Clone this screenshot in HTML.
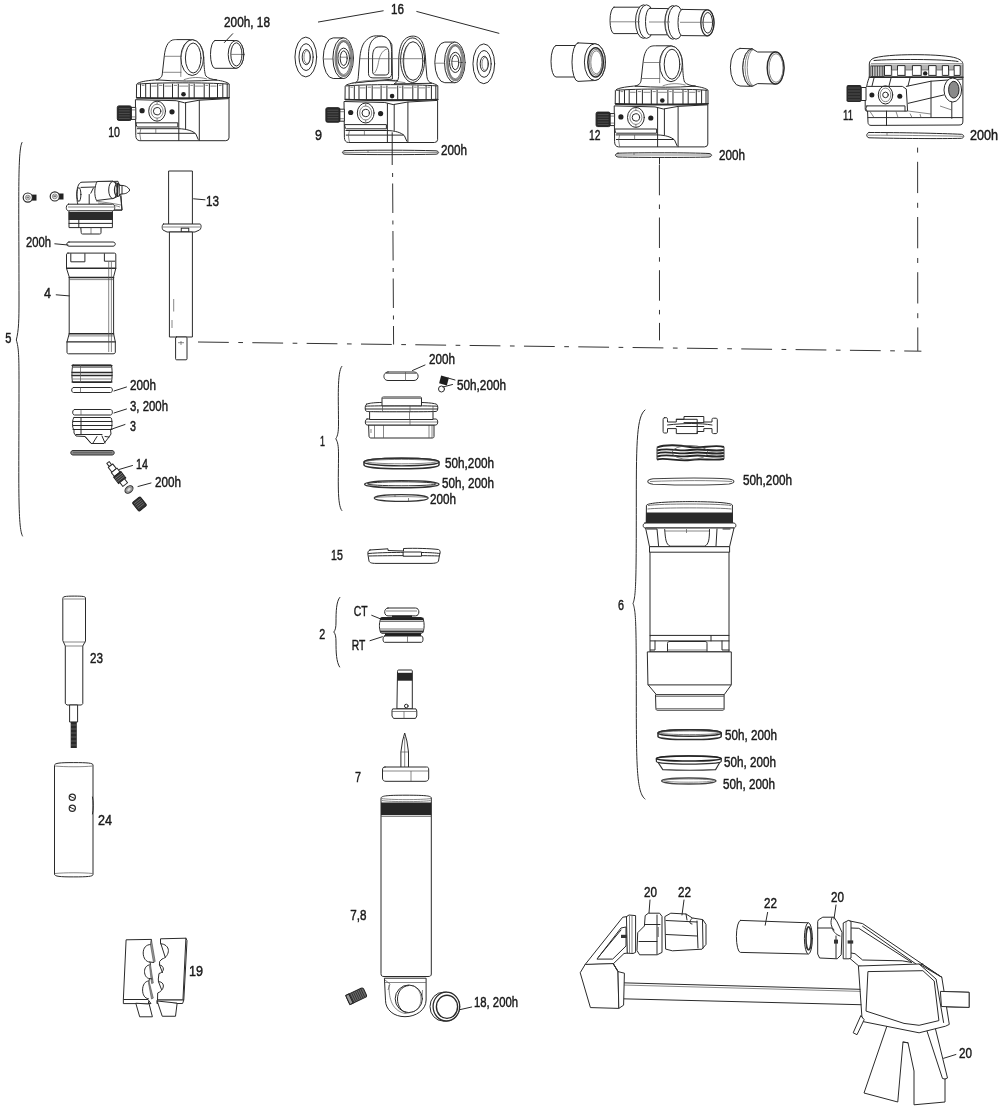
<!DOCTYPE html>
<html><head><meta charset="utf-8">
<style>
html,body{margin:0;padding:0;background:#fff;}
svg{display:block;will-change:transform;}
text{font-family:"Liberation Sans",sans-serif;font-size:14.5px;fill:#1a1a1a;stroke:#1a1a1a;stroke-width:0.45;}
.s{fill:#fff;stroke:#2a2a2a;stroke-width:1;stroke-linejoin:round;stroke-linecap:round;}
.n{fill:none;stroke:#2a2a2a;stroke-width:1;stroke-linecap:round;}
.t{fill:none;stroke:#555;stroke-width:0.7;}
.d{fill:#222;stroke:#222;stroke-width:1;}
.dd{fill:none;stroke:#333;stroke-width:1;stroke-dasharray:28 6 3 6;}
</style></head><body>
<svg width="1000" height="1109" viewBox="0 0 1000 1109">

<defs>
<g id="housing">
  <!-- dome top -->
  <path class="s" d="M0,1 C2,-2 20,-4 50,-4.3 C75,-4.2 88,-2.5 92.4,1 L92.4,15 L0,15 Z"/>
  <path class="n" d="M1,1.2 C20,-0.5 70,-0.5 91.4,1.2"/>
  <!-- ribs -->
  <path class="n" d="M3.7,1.2V14.7 M8.9,1.2V14.7 M13.6,1.2V14.7 M21,1.2V14.7 M26.8,1.2V14.7 M35.7,1.2V14.7 M41.5,1.2V14.7 M52.3,1.2V14.7 M57.4,1.2V14.7 M67.4,1.2V14.7 M72.6,1.2V14.7 M80.7,1.2V14.7 M86,1.2V14.7 M90.4,1.2V14.7"/>
  <path class="t" d="M5,2.5H7.6 M22.3,2.5H25.5 M37,2.5H40.2 M53.6,2.5H56.1 M68.7,2.5H71.3 M82,2.5H84.7 M14.5,3.2H20 M27.8,3.2H34.7 M42.5,3.2H51.3 M58.4,3.2H66.4 M73.6,3.2H79.7"/>
  <path class="n" style="stroke-width:1.6" d="M0,14.8 C30,16 62,16 92.4,14.8"/>
  <circle cx="46.7" cy="11.4" r="2.3" fill="#222"/>
  <!-- body -->
  <path class="s" d="M-1,16.8 L39.4,17.8 L47.8,19.9 L62.5,17.3 L92.2,15.7 L92.2,55 Q92,57.7 89,57.8 L3,57.8 Q-1,57.5 -1,53 Z"/>
  <path class="n" d="M42,19 V57.5 M48.8,20 V45.7 M62.5,17.5 V57.6"/>
  <path class="n" d="M-0.5,39.9 H41 V44.1 H1 Q-0.5,44 -0.5,42 Z"/>
  <path class="n" d="M0.5,45.8 H41.5 C50,46 56,48 59,51 L61.4,56.5 M0.8,50.4 H58"/>
  <path class="t" d="M19,45.8 V50.4 M4,46 Q2,50 4,57.5"/>
  <ellipse class="n" cx="20.3" cy="28.3" rx="8.4" ry="10"/>
  <ellipse class="t" cx="20.3" cy="28.3" rx="6" ry="7"/>
  <circle class="n" cx="20.3" cy="28.3" r="3.7"/>
  <path class="t" d="M20.3,18.5V21.5 M20.3,35V38"/>
  <circle cx="5.3" cy="27.8" r="2.6" fill="#222"/>
  <circle cx="35.2" cy="28.9" r="2.6" fill="#222"/>
  <!-- knob -->
  <rect x="-5.5" y="24.5" width="4.5" height="12" class="s"/>
  <path class="t" d="M-5.5,27H-1 M-5.5,34H-1"/>
  <rect x="-19.5" y="23" width="14" height="14.5" rx="1.5" fill="#2a2a2a" stroke="#222"/>
  <path d="M-18,25.5H-7 M-18,28H-7 M-18,30.5H-7 M-18,33H-7 M-18,35.5H-7" stroke="#777" stroke-width="0.5"/>
</g>

<g id="tower1">
  <path class="s" d="M20,-3 C24,-4.5 25.2,-6 25.5,-9 L27.5,-27 C28.5,-36 31,-41 35.5,-42.8 C37,-43.2 38,-43.3 40,-43.3 L54,-43.3 C62,-43.2 66.5,-36 67,-25 C67.3,-15 67.8,-10 69,-7 C71,-4.5 75,-3.5 80,-3 C60,-1.5 40,-1.5 20,-3 Z"/>
  <ellipse class="s" cx="55.4" cy="-25.3" rx="11.4" ry="17.9"/>
  <ellipse class="n" cx="56.4" cy="-24.9" rx="7.8" ry="15"/>
  <path class="t" d="M55.4,-43.2 C50,-43 45.5,-36 44.2,-26 L44,-6 M27.8,-26.6 H45 M26.4,-10.6 H44.6"/>
  <path class="t" d="M47,-3.2 C55,-6 62,-6 70,-4"/>
</g>
<g id="bearing">
  <!-- local: face ellipse center 0,0 rx 10.3 ry 20.3 ; depth to left 10 -->
  <path class="s" d="M0,-20.3 L-10,-20.3 A10,20.3 0 0 0 -10,20.3 L0,20.3 Z"/>
  <ellipse class="s" cx="0" cy="0" rx="10.3" ry="20.3"/>
  <ellipse class="n" cx="0.6" cy="0.2" rx="8.3" ry="17.6" style="stroke-width:2.2;stroke:#888"/>
  <ellipse class="s" cx="0.4" cy="0" rx="7" ry="16.5" style="stroke-width:0.6"/>
  <ellipse class="n" cx="0.5" cy="0" rx="5.8" ry="10.1"/>
  <ellipse class="n" cx="0.5" cy="0" rx="3.5" ry="7.3"/>
  <path class="t" d="M-20,0.8 H-9.5 M-3,-1 H4"/>
</g>
<g id="washer">
  <ellipse class="s" cx="0" cy="0" rx="10.85" ry="19.9"/>
  <ellipse class="n" cx="0.3" cy="0.1" rx="7.1" ry="13.4"/>
  <ellipse class="n" cx="0.5" cy="0.1" rx="4.1" ry="7.6"/>
  <ellipse class="t" cx="1.2" cy="0.1" rx="3" ry="6.5"/>
</g>
</defs>

<use href="#housing" x="136.8" y="82.9"/>
<use href="#housing" x="345.4" y="84.7"/>
<use href="#housing" x="615.6" y="89.1"/>

<!-- part 10 tower + bushing -->
<use href="#tower1" x="136.8" y="82.9"/>
<use href="#tower1" x="615.6" y="89.1"/>
<!-- bushing 18 -->
<path class="s" d="M215,40.5 L236,40.5 A7.8,13.9 0 0 1 236,68.3 L215,68.3 A4.5,13.9 0 0 1 215,40.5 Z"/>
<ellipse class="s" cx="236" cy="54.4" rx="7.8" ry="13.9"/>
<ellipse class="n" cx="236.4" cy="54.4" rx="5.6" ry="11.6"/>
<path class="t" d="M230.8,54.4 H242"/>
<path class="n" d="M232.7,33.7 L224.4,42.5"/>
<!-- part 9 towers (double lug) -->
<g transform="translate(345.4,84.7)">
  <path class="s" d="M10,-2 C12.5,-3 12.7,-5 12.9,-8 L14.5,-27.7 C15.5,-37 18,-42 21,-44.5 C24,-47.5 27,-48.9 31,-48.9 L37,-48.6 C41,-47.5 44,-45 46.5,-40 L47,-6 Z"/>
  <path class="s" d="M23.1,-30 C23.1,-40 26,-45 31,-47.5 C34,-49 38,-49 41,-47 C44.5,-44.5 46.2,-40 46.2,-33 L46.2,-11 C46.2,-8 44.5,-6.8 42,-6.8 L27.5,-6.8 C24.5,-6.8 23.1,-8.5 23.1,-11 Z"/>
  <path class="n" d="M27.2,-28 C27.2,-34 29,-37.7 33,-37.7 L39.5,-37.7 C42,-37.7 43.4,-35.5 43.4,-32 L43.4,-13 C43.4,-10.8 42,-9.7 40,-9.7 L30.5,-9.7 C28.5,-9.7 27.2,-11 27.2,-13 Z"/>
  <path class="t" d="M42,-36 C36,-34 34,-28 33,-22 C32,-16 30,-12 28,-11"/>
  <path class="s" d="M49,-1 C51,-2 53,-4 53.2,-8 L53.4,-27.7 C54,-36 56,-42 59,-45 C62,-48 65,-48.6 68,-48.6 C72,-48.4 75.5,-46 77.5,-41 C79.5,-36 80,-30 80.5,-20 L81.5,-8 C82,-4 84,-2 86,-1.5 Z"/>
  <ellipse class="s" cx="67.2" cy="-24.5" rx="12" ry="22.3"/>
  <ellipse class="n" cx="67.6" cy="-23.7" rx="9.9" ry="19.3"/>
  <path class="t" d="M63,-40 C59,-35 58,-28 58.5,-20 C59,-12 61,-7 63,-6" />
  <path class="t" d="M14.5,-26 H78"/>
  <path class="t" d="M6,-1.5 C25,-6 40,-5 60,-2"/>
</g>
<!-- bearings/washers 16 -->
<use href="#washer" x="305.8" y="57"/>
<use href="#bearing" x="343.2" y="58.2"/>
<use href="#bearing" x="454.8" y="62.4"/>
<use href="#washer" x="483.8" y="63.8"/>
<path class="n" d="M318.4,22 L383.2,10.8 M416.8,11.5 L498.9,33.3"/>

<!-- part 12 bushings -->
<g>
  <path class="s" d="M614,7.2 L640,7.2 L640,33.6 L614,33.6 A4,13.2 0 0 1 614,7.2 Z"/>
  <ellipse class="s" cx="643.5" cy="21.6" rx="8" ry="16.8"/>
  <ellipse class="s" cx="646.5" cy="21.6" rx="8" ry="16.8"/>
  <path class="s" d="M649.5,8.4 L670,8.6 L670,34.8 L649.5,34.8 A4,13.2 0 0 1 649.5,8.4 Z"/>
  <ellipse class="s" cx="672.8" cy="22.4" rx="8" ry="16.8"/>
  <path class="t" d="M672,5.8 A8,16.8 0 0 0 672,39"/>
  <ellipse class="s" cx="676" cy="22.4" rx="8" ry="16.8"/>
  <path class="s" d="M682,9.4 L707.4,9.8 A6.6,13 0 0 1 707.4,35.8 L682,35.6 A4,13.1 0 0 1 682,9.4 Z"/>
  <ellipse class="s" cx="707.4" cy="22.8" rx="6.6" ry="13" style="stroke-width:1.3"/>
  <ellipse class="n" cx="707.8" cy="22.8" rx="4.8" ry="10.3"/>
  <path class="t" d="M610.5,21.8 H640 M649,22 H670 M680,22.3 H713"/>
</g>
<g>
  <path class="s" d="M556,45.5 L575,45.5 L575,77 L556,77 A5,15.75 0 0 1 556,45.5 Z"/>
  <path class="s" d="M578,42.9 L595,43.7 A10.5,18.4 0 0 1 595,80.5 L578,81.4 A6,19.2 0 0 1 578,42.9 Z"/>
  <ellipse class="s" cx="594.9" cy="62.1" rx="10.5" ry="18.4"/>
  <ellipse class="n" cx="595.6" cy="62.3" rx="7.8" ry="14.6" style="stroke-width:1.5"/>
  <ellipse class="t" cx="596" cy="62.3" rx="6.5" ry="13"/>
  <ellipse class="t" cx="596.3" cy="62.3" rx="5.5" ry="11.5"/>
</g>
<g>
  <path class="s" d="M740,48.4 L752,48.8 A9.2,18.8 0 0 0 752,86.4 L740,86 A9.6,18.8 0 0 1 740,48.4 Z"/>
  <path class="s" d="M752,48.8 L757.6,52 L775.6,52 A8.4,16 0 0 1 775.6,84 L757.6,83.6 L752,86.4 A9.2,18.8 0 0 1 752,48.8 Z"/>
  <path class="t" d="M753,49 A8,18.6 0 0 0 753,86.2 M754,49.2 A6.8,18.4 0 0 0 754,86"/>
  <ellipse class="s" cx="775.6" cy="68" rx="8.4" ry="16" style="stroke-width:1.4"/>
  <ellipse class="t" cx="776" cy="68" rx="7" ry="14.3"/>
</g>
<!-- part 11 -->
<g>
  <path class="s" d="M869.3,77.3 L869.3,64 C869.5,61 871,59.5 874,58 C885,55 905,54.6 918,54.7 C935,54.8 950,56 956,58 C960.5,59.5 962.9,61.5 962.9,64.3 L962.9,77.3 Z"/>
  <path class="n" d="M874,60.5 C890,59 945,59 958,61.5"/>
  <path class="t" d="M871,63.7 H962"/>
  <rect x="870" y="64.5" width="92" height="12.5" fill="#b5b5b5"/>
  <path d="M871,66H884 V76.5 H871Z" fill="#fff" stroke="#333" stroke-width="0.8"/>
  <path d="M872.5,66V76.5 M874.2,66V76.5 M875.9,66V76.5 M877.6,66V76.5 M879.3,66V76.5 M881,66V76.5 M882.7,66V76.5" stroke="#333" stroke-width="0.9"/>
  <path class="s" d="M884.9,65.6 h6.5 v9.8 h-6.5Z M897.9,65.6 h7.1 v9.8 h-7.1Z M912.8,65.6 h8.4 v9.8 h-8.4Z M929,65.6 h7.1 v9.8 h-7.1Z M942.7,65.6 h5.8 v9.8 h-5.8Z M954.4,65.6 h5.8 v9.8 h-5.8Z"/><path d="M891.8,70 h5.7 v6.5 h-5.7Z M905.4,70 h7 v6.5 h-7Z M921.6,70 h7 v6.5 h-7Z M936.4,70 h5.9 v6.5 h-5.9Z M948.9,70 h5.1 v6.5 h-5.1Z" fill="#fff" stroke="#555" stroke-width="0.7"/>
  
  <circle cx="925.2" cy="73.4" r="2.2" fill="#222"/>
  <path class="n" style="stroke-width:1.6" d="M869.3,77.3 H962.9"/>
  <path class="s" d="M866.7,86.4 C867.5,82 868.5,79 869.3,77.5 L962.9,77.5 L962.9,121 C962.9,124 962,125 959,125 L871,125.4 C869,125.4 868,124 868,122.8 Z"/>
  <path class="s" d="M865.4,87.7 C866,86.5 867,86.4 869,86.4 L902.4,86.4 L906.3,89 L907.6,111.1 L866.4,111.1 C865.5,111 865.2,110 865.2,108 Z"/>
  <path class="n" d="M866.5,105.9 H905 V111 M867,106 C865.5,107 865.5,110 867,111"/>
  <ellipse class="n" cx="885.5" cy="94.9" rx="7.2" ry="9.1"/>
  <ellipse class="t" cx="885.5" cy="94.9" rx="5.3" ry="6.8"/>
  <circle class="n" cx="885.5" cy="94.9" r="2.8"/>
  <circle cx="871.9" cy="94.9" r="2.5" fill="#222"/>
  <circle cx="899.8" cy="96.2" r="2.5" fill="#222"/>
  <path class="n" d="M906.3,86.4 L931,81.2 L962.5,79 M908.3,103.3 L944,94.9 M931,81.2 V117.6 M951.8,102 V118.3 M868,117.6 H962.5 M886.5,111.1 V125.4 M872,86 L874,78 M889,86 L891,78 M908,86 L910,78"/><path class="t" d="M870,111.5 L874,117.5 M896,111.5 L898,117.5 M908,111 L931,114 M910,113.5 L912,117.5 M920,114 L921,117.5 M940,106 L951.8,110"/>
  <ellipse class="s" cx="952.8" cy="90" rx="8.8" ry="12"/>
  <ellipse cx="953.8" cy="89.7" rx="5.2" ry="8.4" fill="#8a8a8a" stroke="#222" stroke-width="1"/>
  <rect x="861.5" y="87.5" width="4.5" height="13" class="s"/>
  <rect x="846.5" y="85.1" width="15" height="16.9" rx="1.8" fill="#2a2a2a"/>
  <path d="M848,88H860 M848,91H860 M848,94H860 M848,97H860 M848,100H860" stroke="#777" stroke-width="0.5"/>
</g>
<!-- o-rings under housings -->
<path class="s" d="M345,150.6 C370,150 410,150 436,150.8 C439.5,151.2 439.5,153.8 436,154.2 C410,154.8 370,154.8 345,154.2 C341.5,153.8 341.5,151 345,150.6 Z"/><path class="t" d="M343,152.4 H438 M368,150.6 V152.4"/>
<path class="s" d="M618,153.2 C640,152.6 690,152.6 709,153.5 C712.5,154 712.5,156.5 709,157 C690,157.6 640,157.6 618,157 C614.5,156.5 614.5,153.7 618,153.2 Z"/><path class="t" d="M616,155 H711 M634,153 V155"/>
<path class="s" d="M869,132.5 C900,132.5 940,133.3 961.5,134.3 C964.5,134.8 964.5,137.8 961.5,138.3 C940,138.9 900,138.5 869,137.8 C866,137.3 866,133 869,132.5 Z"/><path class="t" d="M868,135.2 C900,135.2 940,135.8 963,136.3 M887,132.8 V135.5"/>
<!-- dash-dot lines -->
<path class="n" d="M392.2,132.7 V164.6"/>
<path class="dd" style="stroke-dasharray:4 6.5 29.5 7.5;stroke-linecap:butt" d="M392.6,173 L393.6,344.5"/>
<path class="n" d="M659.5,158 V164"/>
<path class="dd" style="stroke-dasharray:30.5 9.2 4.5 8.5;stroke-linecap:butt" d="M659.4,164.8 L659.5,340.4"/>
<path class="dd" style="stroke-dasharray:5 9.2 31.3 9.7;stroke-linecap:butt" d="M917.6,147.6 L917.8,351"/>
<path class="dd" style="stroke-dasharray:30.8 9.5 4.7 9.33;stroke-linecap:butt" d="M198,342 L921.4,351.2"/>
<!-- brackets -->
<path class="n" d="M22,142.5 C17.5,150 19,200 19,300 C19,320 18.8,330 16.3,340 C18.8,348 19,356 19,385 C19,480 17.5,528 22.5,536"/>
<path class="n" d="M341.8,366.4 C337,372 338.5,400 338.5,424 C338.5,432 337.8,435.5 335.8,438.8 C337.8,442 338.5,446 338.5,454 C338.5,480 337,505 341.8,510.5"/>
<path class="n" d="M339.8,597.4 C336.3,601 336,612 336,622 C336,627 335.5,630 333.8,632 C335.5,634 336,637 336,642 C336,652 336.3,662 339.6,667"/>
<path class="n" d="M645,410 C637,416 636.3,440 636.3,500 C636.3,580 636,596 633,603.5 C636,611 636.3,625 636.3,700 C636.3,770 637,793 645,799"/>

<!-- GROUP 5 -->
<g>
  <!-- screws -->
  <rect x="31.5" y="194.6" width="5" height="6" fill="#222"/>
  <circle cx="27.8" cy="197.6" r="4.6" class="s" style="stroke-width:1.2"/>
  <circle cx="27.8" cy="197.6" r="2.4" class="t"/>
  <path d="M26.3,196.5h3v2h-3z" fill="#777"/>
  <rect x="58.5" y="193.5" width="5" height="6" fill="#222"/>
  <circle cx="54.8" cy="196.4" r="4.6" class="s" style="stroke-width:1.2"/>
  <circle cx="54.8" cy="196.4" r="2.4" class="t"/>
  <path d="M53.3,195.3h3v2h-3z" fill="#777"/>
  <!-- cap valve body -->
  <path class="s" d="M77.8,204.5 C76.3,198 76.3,189 78.5,185 C79.5,183 80.5,182.3 82,182.2 L118,181.3 L121,196 L122,210.1 L78,210.1 Z"/>
  <ellipse class="n" cx="78.9" cy="194.5" rx="2" ry="7"/>
  <path class="n" d="M81,187.4 L95.4,187 M90.8,193.2 L93.4,188 M89.2,194.5 V204"/>
  <path class="s" d="M97,181.8 C94.3,186 94,196 96.5,200.5 L113,198.5 L113,181.5 Z"/>
  <path class="s" d="M113,181.5 L117.5,183.5 L117.5,196.5 L113,198.5 Z"/>
  <ellipse class="s" cx="112.9" cy="190" rx="4.2" ry="8.5"/>
  <ellipse class="n" cx="117.8" cy="190" rx="3.3" ry="6.3" style="stroke-width:1.3"/>
  <path class="s" d="M119.5,185.4 L122,185.4 C125,185.6 127.9,186.5 129.8,190 C127.9,193.3 125,193.9 122,193.9 L119.5,194.5 Z"/>
  <path class="n" d="M122,185.4 V193.9"/>
  <path class="t" d="M96,201 C105,202.5 114,203.5 121,205 M98,203 C108,204 114,205 120,207"/>
  <path class="n" d="M120.7,196.5 L122,210.1 L112.9,210.1"/>
  <!-- flange -->
  <path class="s" d="M68.5,204.2 L112.5,204.2 C115.5,204.2 115.5,210.8 112.5,210.8 L68.5,210.8 C65.5,210.8 65.5,204.2 68.5,204.2 Z"/>
  <path class="t" d="M68,207 H114"/>
  <rect x="68.6" y="212" width="44.4" height="8" fill="#2b2b2b"/>
  <path class="n" d="M69,211.5 V227.6 H112.4 V211.5"/>
  <path class="n" d="M69,223.4 H112.4 M78.8,220 V227.6"/>
  <path class="s" d="M81.2,227.6 H101 V232.8 C101,233.6 100.5,234 99.5,234 H82.5 C81.5,234 81.2,233.6 81.2,232.8 Z"/>
  <path class="t" d="M91,227.6 V234"/>
  <!-- o-ring -->
  <path class="s" d="M69,242 L113,242 C116,242 116,246.2 113,246.2 L69,246.2 C66,246.2 66,242 69,242 Z"/>
  <path class="n" d="M54.8,243.8 L68,245"/>
  <!-- part 4 -->
  <path class="s" d="M68,253.1 H114.3 C115.5,253.1 115.8,253.5 115.8,255 V268.3 L113.6,276.9 V333.7 L115.3,341.9 V352 C115.3,353.3 114.5,353.8 113,353.8 H68.5 C67.5,353.8 67,353.2 67,352 V341.9 L69.2,333.7 V276.9 L66.5,268.3 V255 C66.5,253.6 67,253.1 68,253.1 Z"/>
  <path class="n" d="M70.8,253.7 V261.8 H84.9 V253.7 M104.4,253.7 V261.2 H114.7"/>
  <path class="n" style="stroke-width:1.4" d="M66.6,268.3 H115.7 M69.2,277.5 H113.6 M69.2,333.7 H113.6 M67,341.9 H115.3"/>
  <path class="t" d="M69.2,279.6 H113.6 M69.2,335.9 H113.6 M108.7,262 V352 M111.4,262 V352"/>
  <path class="n" d="M56.2,294.8 L69.2,295.9"/>
  <!-- rings stack -->
  <path class="s" d="M73,365 H111 C112.5,365 112.5,382.5 111,382.5 H73 C71.5,382.5 71.5,365 73,365 Z"/>
  <path class="n" style="stroke-width:1.6" d="M72.2,365.6 H111.8 M72.2,372.5 H111.8 M72.2,375.5 H111.8 M72.2,382 H111.8"/>
  <path class="t" d="M72.2,367.5 H111.8 M72.2,379 H111.8 M80.5,365 V382.5"/>
  <path class="s" d="M73.5,387.5 H110.5 C113,387.5 113,392.5 110.5,392.5 H73.5 C71,392.5 71,387.5 73.5,387.5 Z"/>
  <path class="t" d="M80.5,387.5 V392.5"/>
  <path class="n" d="M114,391 L126.5,387"/>
  <path class="s" d="M74.5,409.5 H110.5 C113,409.5 113,415 110.5,415 H74.5 C72,415 72,409.5 74.5,409.5 Z"/>
  <path class="t" d="M81,409.5 V415"/>
  <path class="n" d="M114,413 L126.5,409"/>
  <!-- piston -->
  <path class="s" d="M74,417.5 H110.5 C112.5,417.5 112.5,429.5 110.5,429.5 L111,434 L109,437 L104,443.5 L91,443.5 L85,436.5 L76,436 L74,433 L74,429.5 C72,429.5 72,417.5 74,417.5 Z"/>
  <path class="n" d="M73,421.5 H112 M73,425.5 H112 M73,429.5 H112 M81,417.5 V434"/>
  <path class="n" d="M76,434.5 H102 M85,436.5 L91,443 M97,436.5 L93,443 M102,436 L105,443 M105,436.5 L109,437"/>
  <path class="n" d="M112,429 L125,424.5"/>
  <path d="M73,450.5 H112 C115,450.5 115,455 112,455 H73 C70,455 70,450.5 73,450.5 Z" fill="#888" stroke="#333" stroke-width="1"/>
  <path d="M73,452.7 H112" stroke="#555" stroke-width="0.8"/>
  <!-- valve 14 -->
  <g transform="translate(108,462.5) rotate(52)">
    <rect x="0" y="-1.5" width="4" height="3" class="s"/>
    <rect x="4" y="-2.8" width="6" height="5.6" class="s"/>
    <rect x="10" y="-3.6" width="5" height="7.2" class="s"/>
    <rect x="15" y="-4.6" width="8" height="9.2" fill="#333" stroke="#222"/>
    <path d="M17,-4.5V4.5 M19,-4.5V4.5 M21,-4.5V4.5" stroke="#999" stroke-width="0.6"/>
    <rect x="23" y="-3" width="5" height="6" class="s"/>
  </g>
  <path class="n" d="M119,469.5 L132.5,465.5"/>
  <ellipse cx="129" cy="489.5" rx="4.5" ry="3.2" transform="rotate(-40 129 489.5)" fill="#999" stroke="#333"/>
  <ellipse cx="129" cy="489.5" rx="2" ry="1.2" transform="rotate(-40 129 489.5)" fill="#ddd"/>
  <path class="n" d="M138,486.5 L151,483"/>
  <g transform="translate(139.5,504) rotate(-38)">
    <rect x="-5" y="-5.5" width="10" height="11" rx="1.5" fill="#333" stroke="#222"/>
    <path d="M-4,-3.5H4 M-4,-1.5H4 M-4,0.5H4 M-4,2.5H4" stroke="#999" stroke-width="0.5"/>
  </g>
</g>
<!-- part 13 -->
<g>
  <rect class="s" x="169" y="171" width="23.4" height="53.4"/>
  <path class="s" d="M163.5,224 H200 C201.5,224 201.5,229 199.5,230 L195,232 H167 L163,230 C161.8,229 161.8,224 163.5,224 Z"/>
  <path class="t" d="M163,227 H200"/>
  <rect class="n" x="181.25" y="228.2" width="7.5" height="3.8"/>
  <rect class="s" x="169.8" y="232" width="22.6" height="105"/>
  <path class="t" d="M173.7,299 V311.5 M172,320 V328"/>
  <rect class="s" x="175.6" y="337" width="11.4" height="22.8" rx="1"/>
  <path class="t" d="M181,341 V345 M178,342.7 H184"/>
  <path class="n" d="M193.6,198.8 L205,199.8"/>
</g>

<!-- GROUP 1 -->
<g>
  <path class="s" d="M388,372 H414 C419.5,372 419.5,380.5 414,380.5 H388 C382.5,380.5 382.5,372 388,372 Z"/>
  <path class="t" d="M405.5,372 V380.5 M386,373.5 H416"/>
  <path class="n" d="M412.5,370.5 L425,365"/>
  <g transform="rotate(15 444 380.5)"><rect x="440" y="376.5" width="8" height="8" fill="#1e1e1e"/></g>
  <circle class="s" cx="441.5" cy="389" r="3"/>
  <path class="n" d="M448,378 L455,380 M443,387 L452.5,384.5"/>
  <!-- cap part 1 -->
  <path class="s" d="M369,425 H434 V436.5 C434,437.8 433,438 432,438 H371 C370,438 369,437.5 369,436.5 Z"/>
  <path class="t" d="M374.5,425 V438 M383.5,425 V438 M429,425 V438 M432,425 V438 M371,429 V433"/>
  <path class="s" d="M367,419 H436 C438.3,419.3 438.3,424.7 436,425 H367 C364.7,424.7 364.7,419.3 367,419 Z"/>
  <path class="t" d="M366,422 H437 M410,419 V425"/>
  <rect class="s" x="370" y="411.5" width="63" height="8"/>
  <path class="t" d="M409.5,411.5 V419.5"/>
  <path class="s" d="M366.5,404.2 C370,402.5 380,402.3 400,402.2 C420,402.3 432,402.5 436.5,404.2 C438.3,405 438.3,410.8 436.5,411.4 C430,411.8 420,411.8 400,411.8 C380,411.8 370,411.8 366.5,411.4 C364.7,410.8 364.7,405 366.5,404.2 Z"/>
  <path class="n" d="M365.5,406.2 C375,405.6 425,405.6 437.5,406.2 M365.5,409 H437.5"/>
  <path class="t" d="M382.5,406 V412 M410,406 V412 M433,406 V412"/>
  <path class="s" d="M382,405.5 V398 C382,397.3 382.5,397 383.5,397 H420 C421,397 421.5,397.3 421.5,398 V405.5 Z"/>
  <path class="t" d="M382,398.5 H421.5"/>
  <!-- rings -->
  <path d="M364,462 A37.5,3.8 0 0 1 439,462 L439,465 A37.5,3.8 0 0 1 364,465 Z" fill="#fff" stroke="#2e2e2e" stroke-width="1.5"/>
  <ellipse cx="401.5" cy="462" rx="37.5" ry="3.8" fill="none" stroke="#2e2e2e" stroke-width="1.3"/>
  <ellipse cx="401.5" cy="461.6" rx="35" ry="2.2" fill="none" stroke="#666" stroke-width="0.8"/>
  <ellipse cx="401.8" cy="484.2" rx="37.2" ry="3.6" fill="#fff" stroke="#333" stroke-width="1.4"/>
  <ellipse cx="401.8" cy="483.8" rx="34.5" ry="2" fill="none" stroke="#333" stroke-width="1"/>
  <ellipse cx="401.2" cy="498" rx="27" ry="3.4" fill="#fff" stroke="#333" stroke-width="1.1"/>
  <path class="t" d="M374.5,497.5 C390,496.3 412,496.3 428,497.5 M395,494.7 V497 M408.5,498 V501.4"/>
  <!-- part 15 -->
  <path class="s" d="M370,550 L388,548.8 V550.5 L403.5,551 V548.5 C415,548 430,548.5 438.5,549.5 C440.5,550 440.5,553 439.5,555 L438.5,561 C438,562.5 436,563.4 430,563.4 H376 C371,563.4 369.5,562.5 369,561 L368,555 C367.5,552.5 368,550.5 370,550 Z"/>
  <path class="n" d="M368.5,553.5 C380,552.5 395,552.5 403.5,552.3 M421.5,552.5 C430,552.5 436,553 439.5,553.5 M369,556 C390,555.5 430,555.5 439,556"/>
  <rect class="s" x="403.5" y="552" width="18" height="4.2"/>
</g>
<!-- GROUP 2 -->
<g>
  <path class="s" d="M388,608 H415.5 C420,608 420,615.9 415.5,615.9 H388 C383.5,615.9 383.5,608 388,608 Z"/>
  <path class="t" d="M386,611 H417"/>
  <rect x="392" y="615.5" width="20" height="3" fill="#222"/>
  <path class="s" d="M382,617.5 H421.5 C425,617.5 425,633.3 421.5,633.3 H382 C378.5,633.3 378.5,617.5 382,617.5 Z"/>
  <path d="M380,619 H423.5" stroke="#222" stroke-width="2.3"/>
  <path d="M380,621.5 H423.5 M380,629 H423.5" stroke="#555" stroke-width="0.8"/>
  <path d="M380,631.5 H423.5" stroke="#333" stroke-width="1.8"/>
  <rect x="385" y="633.2" width="36" height="3" fill="#1e1e1e"/>
  <path class="s" d="M384.5,636 H421.5 C423.5,636 423.5,642.3 421.5,642.3 H384.5 C382.5,642.3 382.5,636 384.5,636 Z"/>
  <path class="t" d="M407.5,636 V642.3"/>
  <path class="n" d="M371.7,615.3 L381.3,619.2 M370,640.7 L382.4,636.7"/>
</g>
<!-- shaft -->
<g>
  <path class="s" d="M397.5,671 C397.5,670.2 398,670 399,670 H411 C412,670 412.3,670.3 412.3,671 V708.9 H397.3 Z"/>
  <rect x="397.3" y="672.8" width="15" height="7.9" fill="#262626"/>
  <path class="s" d="M393,708.9 H416 L416.8,711 V716 L415.5,718.4 H393.5 L392,716 V711 Z"/>
  <path class="t" d="M392,711.5 H416.8 M404,711.5 V718.4"/>
  <circle class="n" cx="406.3" cy="706" r="1.8"/>
</g>
<!-- part 7 -->
<g>
  <path class="s" d="M400.9,768 V752 L402.5,741 L404.7,733 L406.9,741 L408.5,752 V768 Z"/>
  <path class="t" d="M400.9,752 H408.5 M404.7,737 V768"/>
  <path class="s" d="M385,767 H426.5 C428.5,767 428.7,768 428.7,770 V778 C428.7,780.5 427,781.3 425,781.3 H386 C384,781.3 382.5,780.5 382.5,778 V770 C382.5,768 383,767 385,767 Z"/>
  <path class="t" d="M383,771 H428.5 M411,771 V781.3"/>
</g>
<!-- body 7,8 -->
<g>
  <path class="s" d="M381,798 C381,796 385,795.2 406,795.2 C427,795.2 431.3,796 431.3,798 V974 C431.3,976 430,976.5 428,976.5 H384 C382,976.5 381,976 381,974 Z"/>
  <path class="t" d="M381.5,798.5 C390,800 422,800 431,798.5"/>
  <path class="t" d="M382,800.5 C390,802 422,802 430.5,800.5"/><rect x="381" y="802.5" width="50.3" height="12.7" fill="#262626"/>
  <path class="t" d="M381,816.5 H431.3"/>
  <path class="s" d="M384.8,978.2 H426.1 V1000 C426,1010 416,1016.7 405,1016.7 C394,1016.7 385.5,1010 385.5,1000.6 Z"/>
  <path class="t" d="M385,982.5 H426 M389,985 C389,995 390,1010 405,1013.5 C418,1012 422,1005 422.5,990 M385,980 L390,984 L388,990"/>
  <ellipse class="s" cx="408.8" cy="998.8" rx="13.6" ry="13.8"/>
  <path class="n" d="M408.8,985.5 C401,986 397.5,993 397.5,999 C397.5,1006 401,1011 406,1012.4"/>
  <path class="t" d="M412,985.6 C418,987 421,993 421,999 C421,1005 418,1010.5 412,1012"/>
  <g transform="translate(356.4,996) rotate(-25)">
    <rect x="-9.5" y="-5" width="19" height="10" rx="2" fill="#6a6a6a" stroke="#222"/>
    <path d="M-5,-4.5V4.5 M-3,-4.5V4.5 M-1,-4.5V4.5 M1,-4.5V4.5 M3,-4.5V4.5 M5,-4.5V4.5 M7,-4.5V4.5" stroke="#222" stroke-width="0.7"/>
    <rect x="-9.5" y="-5" width="3.5" height="10" fill="#999" stroke="#222"/>
  </g>
  <path class="s" d="M443,992.2 A13,14.4 0 0 0 443,1021 H446.4 A13.3,14.4 0 0 0 446.4,992.2 Z"/>
  <ellipse class="s" cx="446.4" cy="1006.6" rx="13.3" ry="14.4" style="stroke-width:1.3"/>
  <ellipse class="n" cx="447" cy="1006.8" rx="10.6" ry="11.6" style="stroke-width:1.4"/>
  <path class="n" d="M459.7,1009.7 L471.7,1007"/>
</g>

<!-- GROUP 6 -->
<g>
  <!-- clip -->
  <path class="s" d="M664.5,417.7 H666.5 C667.3,417.7 667.5,418.5 667.5,419.5 V422 H676.3 V419.3 H684 V416.5 H703.8 V422 H712 V419.5 C712,418.5 712.5,418.2 713.5,418.2 H716 C717,418.2 717.3,419 717.3,420 V432 C717.3,433 716.8,433.6 716,433.6 H713.5 C712.5,433.6 712,433 712,432 V428.6 H703.8 V431.5 H697.2 V433.6 H676.3 V428.6 H667.5 V432 C667.5,432.8 667,433 666,433 H664.5 C663.5,433 663.1,432.5 663.1,431.5 V419.5 C663.1,418.5 663.5,417.7 664.5,417.7 Z"/>
  <path class="n" d="M676.3,419.3 H697.2 V433.6 M684,422.6 H703.8 M667.5,425 C685,423 700,423 712,425 M676.3,426.5 H697.2 M697.2,426.5 H703.8"/>
  <!-- wave spring -->
  <g fill="none" stroke="#262626" stroke-width="1.9">
    <path d="M657,447.5 C665,444 680,445 690,447 C700,449 715,444 724,447"/>
    <path d="M657,450.5 C668,447 680,452 690,450 C702,448 712,452 724,450"/>
    <path d="M657,453.5 C665,450 680,455 690,453 C702,451 712,455 724,453"/>
    <path d="M657,456.5 C668,453 680,458 690,456 C702,454 712,458 724,456"/>
    <path d="M657,459.5 C665,457 680,462 690,460 C702,458 712,461 724,459"/>
  </g>
  <path d="M657,447.5 V459.5 M724,447 V459" stroke="#444" stroke-width="1"/>
  <ellipse cx="690" cy="452.5" rx="18" ry="7" fill="none" stroke="#555" stroke-width="0.8"/>
  <!-- o-ring -->
  <path d="M653,478.8 C680,477.8 712,477.8 729,479 C735.5,480 735.5,483 729,484 C712,485.2 680,485.2 653,484.2 C646,483.2 646,479.8 653,478.8 Z" fill="#fff" stroke="#444" stroke-width="1.1"/>
  <path d="M650,481.5 C680,480.3 712,480.3 732,481.5" fill="none" stroke="#777" stroke-width="0.9"/>
  <!-- main body -->
  <path class="s" d="M650.4,550 H729 V636 H650.4 Z"/>
  <path class="s" d="M646.6,505 C648,502 680,501.6 690,501.6 C700,501.6 731,502 732.4,505 V523 H646.6 Z"/>
  <path d="M648,505.5 C660,503.5 720,503.5 731,505.5 M647.5,509 C660,507.5 720,507.5 731.5,509" fill="none" stroke="#777" stroke-width="1"/>
  <path d="M646,512.6 H732.9 V523 H646 Z" fill="#2a2a2a"/>
  <path class="s" d="M645,523 H734 C736.5,523.5 736.5,527.5 734,528 H645 C642.5,527.5 642.5,523.5 645,523 Z"/>
  <path class="s" d="M646,528 H734 L729.6,546.7 H649.9 Z"/>
  <path class="n" d="M647,529 L657,529 L658.6,546 M664.7,529.5 C665.5,540 666,544 670,546.2 H705 C708.5,544 709.5,540 709.5,529.5 M717,529 L716,546 M730,529 L723,529"/>
  <path class="t" d="M665,531 H709 M686.5,529 V533"/>
  <path class="s" d="M649.9,546.7 H729.6 V552.2 H649.9 Z"/>
  <path class="s" d="M650.4,635.4 H729 V651.9 H650.4 Z"/>
  <path class="n" d="M650.4,640.9 H729 M667.5,651.4 V643.5 C667.5,642 668.5,641.5 670,641.5 H705 C706.5,641.5 707,642 707,643.5 V651.4 M655,641 V650 H650.4 M722,641 V650 H729 M711,635.4 V640.9"/>
  <path class="t" d="M667.5,650 H707"/>
  <path class="s" d="M647.7,651.9 H731.3 V684.9 L724.1,694.8 H656.5 L648.2,684.9 Z"/>
  <path class="n" d="M648.2,684.9 H730.7"/>
  <path class="s" d="M655.9,694.8 H724.1 V709 C724.1,710 723.5,710.2 722,710.2 H658 C656.5,710.2 655.9,710 655.9,709 Z"/>
  <path class="t" d="M656,696.5 H724 M656,708.5 H724"/>
  <!-- rings -->
  <path d="M658,733 A31.6,3.2 0 0 1 721.2,733 L721.2,736.4 A31.6,3.2 0 0 1 658,736.4 Z" fill="#fff" stroke="#2e2e2e" stroke-width="1.5"/>
  <ellipse cx="689.6" cy="733" rx="31.6" ry="3.2" fill="none" stroke="#2e2e2e" stroke-width="1.4"/>
  <ellipse cx="689.6" cy="732.8" rx="29.5" ry="1.8" fill="none" stroke="#666" stroke-width="0.8"/>
  <path d="M656.5,760 L662.8,769.6 C680,770.5 700,770.5 715.6,769.6 L721.2,760 Z" fill="#fff" stroke="#333" stroke-width="1.1"/>
  <path d="M656.4,758.5 A32.4,2.6 0 0 1 721.2,758.5 L721.2,761.5 A32.4,2.6 0 0 1 656.4,761.5 Z" fill="#fff" stroke="#333" stroke-width="1.2"/>
  <ellipse cx="688.8" cy="758.5" rx="32.4" ry="2.6" fill="none" stroke="#222" stroke-width="1.5"/>
  <ellipse cx="688.8" cy="781" rx="27.2" ry="3" fill="#fff" stroke="#444" stroke-width="1.3"/>
  <ellipse cx="688.8" cy="780.6" rx="25" ry="1.6" fill="none" stroke="#777" stroke-width="0.8"/>
</g>
<!-- TOOLS -->
<g>
  <path class="s" d="M62.8,598 C62.8,596.5 65,596.1 74.2,596.1 C83.4,596.1 85.5,596.5 85.5,598 V641 L82.8,646 V703.5 L81.5,705 H67 L65.3,703.5 V646 L63,641 Z"/>
  <path class="t" d="M63.5,599 H85.5 M63.3,642 H85.7 M65.3,646 H83"/>
  <rect class="s" x="70" y="705" width="7.6" height="17"/>
  <rect x="70.7" y="721.9" width="6.1" height="26.1" fill="#2a2a2a"/>
  <path d="M71,725H76.5 M71,729H76.5 M71,733H76.5 M71,737H76.5 M71,741H76.5 M71,745H76.5" stroke="#888" stroke-width="0.5"/>
  <path class="s" d="M54.5,765 C54.5,763 60,762.6 73.75,762.6 C87.5,762.6 93,763 93,765 V874.5 C93,876.5 87.5,876.9 73.75,876.9 C60,876.9 54.5,876.5 54.5,874.5 Z"/>
  <path class="t" d="M55,766 C65,767 83,767 92.5,766 M55,873.5 C65,872.5 83,872.5 92.5,873.5"/>
  <circle class="n" cx="72.3" cy="797.3" r="3.1" style="stroke-width:1.2"/>
  <path class="n" d="M70,796.3 L74.5,798.3"/>
  <circle class="n" cx="72.3" cy="808.3" r="3.1" style="stroke-width:1.2"/>
  <path class="n" d="M70,807.3 L74.5,809.3"/>
  <path class="n" d="M92.5,797 C93.5,801 93.5,810 92.5,814"/>
  <!-- 19 -->
  <path class="s" d="M126.5,939.8 L151.4,939.4 L151,944.5 C146,944.5 143.2,948 143.2,953 C143.2,958 146,962 150,962 L150.5,964.7 C146.5,965 144.5,968 144.5,971.5 C144.5,975 146.5,978.5 149.5,978.5 L149,981 C145,981 142.6,985 142.6,990 C142.6,995 145,998.5 148.5,998.7 L147.4,999.5 H123.75 Z"/>
  <path d="M151.4,939.4 L155.2,961.5 L153.5,962.5 L150.5,945 Z M150.5,964.7 L153.3,983 L151.6,983.5 L149.5,966 Z M149,981 L153.3,998.1 L151.5,999 L148.5,983 Z" fill="#9a9a9a" stroke="#444" stroke-width="0.6"/>
  <path class="n" d="M150,962 L153.5,962.5 M149.5,978.5 L152,979"/>
  <path class="s" d="M123.75,999.5 H148 L151,1003.6 H123.75 Z"/>
  <path class="s" d="M135.9,1003.6 L139.7,1016.8 H152.4 L148.5,1001.5 V1003.6 Z"/>
  <path class="s" d="M160.9,938.8 L185.9,938.2 L187,940.5 L183.8,1000 L157.5,1000 L157.7,993 C160.5,992 163.4,989 163.4,986 C163.4,983 161,981.7 158.5,981.7 L158.3,979 L159,973.5 C161.5,973 163.4,971 163.4,969 C163.4,967 161.5,965 159.5,965 L159.6,961.5 L162,959 C166,958 168.4,954 168.4,950.5 C168.4,947 165,943.8 160.9,943.8 Z"/>
  <path class="n" d="M160.9,943.8 L165.3,957.5 M159.5,965 L162.5,972.5 M158.5,981.7 L161.5,989.5 M185.9,938.2 L183,999"/>
  <path class="s" d="M157.5,1000 H183.8 L182.6,1003.5 H157.3 Z"/>
  <path class="s" d="M157.3,1001.4 L162.25,1016.25 H175.5 L177.1,1003.5 Z"/>
</g>

<!-- CLAMP -->
<g>
  <!-- bar -->
  <path class="s" d="M622,982.8 L969.1,992.3 L969.1,1007.4 L622,998.8 Z"/>
  <path class="t" d="M622,985 L940,993.5"/>
  <!-- left arm frame -->
  <path class="s" d="M585.2,964.4 L622.8,917.2 L628.4,916.4 L628,953 L624,953.5 L613.5,963.6 Z"/>
  <path class="s" d="M597.2,958.8 L621,928 L626,927 L626,946 L613,958.8 Z"/>
  <path class="n" d="M598.5,957 L621,930"/>
  <!-- left block -->
  <path class="s" d="M580.4,972.4 L585.2,964.4 L613.2,963.6 L618,971.6 L618.8,1008.4 L590.8,1007.6 Z"/>
  <path class="s" d="M613.2,963.6 L618,971.6 L624.4,973.2 L623.6,1005.2 L618.8,1008.4 L618,971.6 Z"/>
  <!-- left jaw plate -->
  <path class="s" d="M626.8,916.4 L629,915 L635.6,915.6 L635.6,952.4 L633,953.5 L627.6,953.2 Z"/>
  <path class="t" d="M629.5,916 V953 M632,916 V953"/>
  <rect x="621" y="934.8" width="5.8" height="3.2" fill="#333"/>
  <!-- pad 20 left -->
  <path class="s" d="M638,932.4 L644.4,926 L645.2,915.6 L648.4,913.2 L659.6,913.2 L662,916.4 L662,952.4 L657.2,954.8 L639.6,954.8 L637.2,950.8 Z"/>
  <path class="n" d="M645,924.5 H660 M657,915 V954 M639,941.5 H657"/>
  <rect x="657.5" y="927" width="1.2" height="10" fill="#666"/>
  <!-- part 22 left -->
  <path class="s" d="M665.2,916.4 L670.8,913.2 L686,914 L692.4,918 L702.8,919.6 L706,924.4 L706,944.4 L702,949.2 L672.4,950.8 L666,949.2 Z"/>
  <path class="n" d="M666,920.5 L697,922 M666,934.5 L697,936 M697,921 L698,948 M702.5,920 L703,948 M686,914 L687,920 M692.4,918 C689,921 689,924 692,924"/>
  <!-- cylinder 22 -->
  <path class="s" d="M740.4,920.4 L808.4,922.8 L808.4,954 L740.4,952.4 A4,16 0 0 1 740.4,920.4 Z"/>
  <ellipse class="s" cx="808.4" cy="938.4" rx="4" ry="15.6"/>
  <ellipse cx="808.6" cy="938.4" rx="2.6" ry="11.5" fill="#fff" stroke="#333" stroke-width="1.6"/>
  <!-- pad 20 right -->
  <path class="s" d="M818.8,919.6 L822.8,917.2 L834,917.2 L837.2,922 L842,932.4 L841.2,954.8 L837.2,958.8 L819.6,958 L817.7,954 L817.7,922 Z"/>
  <path class="n" d="M817.7,928 L832,928 C834,933 837,935 840,936 M836,936 V958 M832,917.5 C830,922 831,927 834,930"/>
  <rect x="834" y="939.6" width="4" height="4" fill="#333"/>
  <!-- right jaw plate & arm -->
  <path class="s" d="M848.5,920.7 L862.6,923.6 L941.8,977.3 L858.8,966 L849.4,958 Z"/>
  <path class="s" d="M851,928 L858.8,928.3 L912,962.5 L902.2,960.8 L862.6,960 L855,953.7 L851,953 Z"/>
  <path class="n" d="M862.6,926.3 L919.5,966.5 M918,966.8 L922.8,963.8"/>
  <path class="s" d="M843.6,922.8 L848.4,920.4 L851,921.5 L851,958 L849,958.8 L843.6,958.8 Z"/>
  <path class="t" d="M846,921.5 V958.5"/>
  <rect x="847.6" y="940.4" width="5.6" height="3.2" fill="#333"/>
  <!-- triggers -->
  <path class="s" d="M889,1020 L864,1093 L897.75,1102 L903,1042 L908,1042.8 L914,1071 L914,1104.8 L945,1102 L945,1079 L947.5,1078 L934.5,1025 Z"/>
  <path class="n" d="M903,1042 L908,1042.8"/>
  <path class="n" d="M926,1028 L942.5,1078.5 L945,1079"/>
  <!-- handle body -->
  <path class="s" d="M858.8,966 L919.1,964 L941.8,977.3 L949.3,1024.4 L945.5,1026.2 L919.1,1032.8 L862.6,1021.5 Z"/>
  <path class="n" d="M919.1,964 L936.1,979.1 L943.6,1022.5 M921,963.5 L941.8,977.3"/>
  <path class="s" d="M868.3,971.6 L922.9,970.7 L934.2,981 L938.9,1020.6 L919.1,1025.3 L904,1023.4 L866.4,1011.2 Z"/>
  <!-- bar right stub -->
  <path class="s" d="M940.8,991.4 L969.1,992.3 L969.1,1007.4 L941.8,1006.5 Z"/>
  <!-- small lever -->
  <path class="s" d="M860.7,1015.9 L853.2,1032.8 L857,1034.7 L864,1020 Z"/>
  <path class="n" d="M943.6,1058.3 L955.9,1054.5"/>
  <!-- leaders -->
  <path class="n" d="M650,900 L649,913 M684,900 L682,915 M767.6,912.4 L765.2,925.2 M836,905 L834,919"/>
</g>
<!-- LABELS -->
<g id="labels" transform="translate(0,-0.5)">
<text x="224" y="27" textLength="46" lengthAdjust="spacingAndGlyphs">200h, 18</text>
<text x="391" y="14" textLength="13" lengthAdjust="spacingAndGlyphs">16</text>
<text x="108.2" y="137" textLength="11.8" lengthAdjust="spacingAndGlyphs">10</text>
<text x="315" y="140" textLength="7" lengthAdjust="spacingAndGlyphs">9</text>
<text x="441" y="155" textLength="26" lengthAdjust="spacingAndGlyphs">200h</text>
<text x="589" y="140" textLength="11.5" lengthAdjust="spacingAndGlyphs">12</text>
<text x="719" y="160" textLength="26" lengthAdjust="spacingAndGlyphs">200h</text>
<text x="843" y="120.5" textLength="10" lengthAdjust="spacingAndGlyphs">11</text>
<text x="970" y="140" textLength="28" lengthAdjust="spacingAndGlyphs">200h</text>
<text x="206" y="206" textLength="13" lengthAdjust="spacingAndGlyphs">13</text>
<text x="26" y="247" textLength="25" lengthAdjust="spacingAndGlyphs">200h</text>
<text x="44" y="298" textLength="7" lengthAdjust="spacingAndGlyphs">4</text>
<text x="5.3" y="343" textLength="6.2" lengthAdjust="spacingAndGlyphs">5</text>
<text x="130" y="390" textLength="26" lengthAdjust="spacingAndGlyphs">200h</text>
<text x="130" y="411" textLength="38" lengthAdjust="spacingAndGlyphs">3, 200h</text>
<text x="130" y="431" textLength="6" lengthAdjust="spacingAndGlyphs">3</text>
<text x="136" y="469" textLength="12" lengthAdjust="spacingAndGlyphs">14</text>
<text x="155" y="487" textLength="26" lengthAdjust="spacingAndGlyphs">200h</text>
<text x="429" y="364" textLength="26" lengthAdjust="spacingAndGlyphs">200h</text>
<text x="457" y="390" textLength="49" lengthAdjust="spacingAndGlyphs">50h,200h</text>
<text x="320" y="446" textLength="5" lengthAdjust="spacingAndGlyphs">1</text>
<text x="445" y="468" textLength="49" lengthAdjust="spacingAndGlyphs">50h,200h</text>
<text x="442" y="488" textLength="52" lengthAdjust="spacingAndGlyphs">50h, 200h</text>
<text x="430" y="504" textLength="26" lengthAdjust="spacingAndGlyphs">200h</text>
<text x="331" y="560.8" textLength="11.8" lengthAdjust="spacingAndGlyphs">15</text>
<text x="353.8" y="616.2" textLength="13.8" lengthAdjust="spacingAndGlyphs">CT</text>
<text x="319.2" y="639" textLength="6" lengthAdjust="spacingAndGlyphs">2</text>
<text x="351.7" y="650.3" textLength="13.5" lengthAdjust="spacingAndGlyphs">RT</text>
<text x="355" y="782" textLength="6" lengthAdjust="spacingAndGlyphs">7</text>
<text x="350.3" y="920" textLength="16.2" lengthAdjust="spacingAndGlyphs">7,8</text>
<text x="474" y="1007" textLength="44" lengthAdjust="spacingAndGlyphs">18, 200h</text>
<text x="90" y="663" textLength="13" lengthAdjust="spacingAndGlyphs">23</text>
<text x="98" y="825" textLength="14" lengthAdjust="spacingAndGlyphs">24</text>
<text x="189" y="976" textLength="14" lengthAdjust="spacingAndGlyphs">19</text>
<text x="618" y="610" textLength="6" lengthAdjust="spacingAndGlyphs">6</text>
<text x="743" y="485" textLength="49" lengthAdjust="spacingAndGlyphs">50h,200h</text>
<text x="725" y="740" textLength="52" lengthAdjust="spacingAndGlyphs">50h, 200h</text>
<text x="724" y="767" textLength="52" lengthAdjust="spacingAndGlyphs">50h, 200h</text>
<text x="723" y="789" textLength="52" lengthAdjust="spacingAndGlyphs">50h, 200h</text>
<text x="644" y="897" textLength="13" lengthAdjust="spacingAndGlyphs">20</text>
<text x="678" y="897" textLength="13" lengthAdjust="spacingAndGlyphs">22</text>
<text x="764" y="908" textLength="13" lengthAdjust="spacingAndGlyphs">22</text>
<text x="831" y="902" textLength="13" lengthAdjust="spacingAndGlyphs">20</text>
<text x="959" y="1058" textLength="13" lengthAdjust="spacingAndGlyphs">20</text>
</g>
</svg>
</body></html>
